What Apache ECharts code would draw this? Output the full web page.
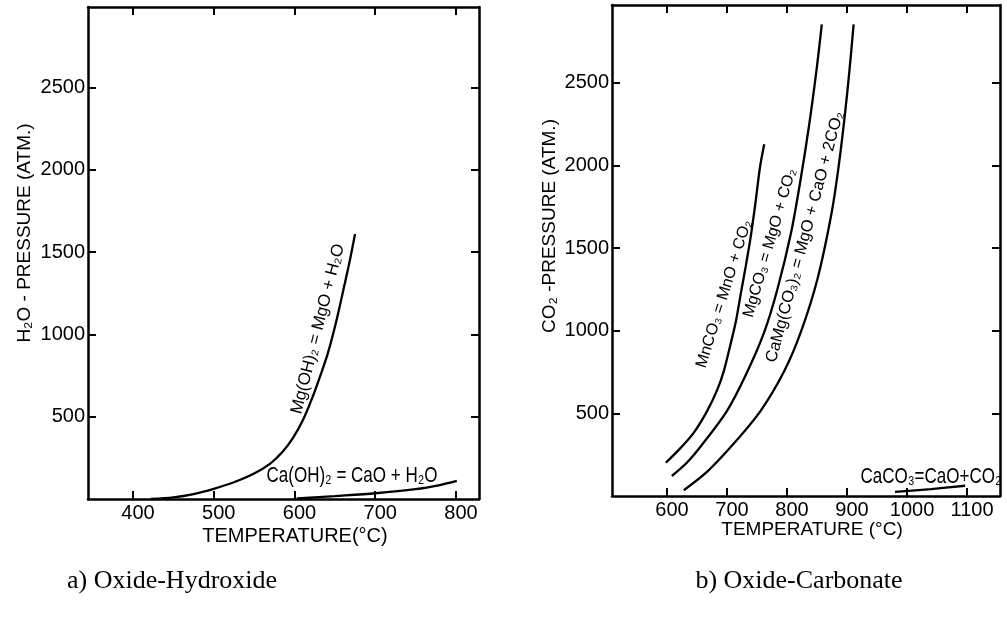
<!DOCTYPE html>
<html><head><meta charset="utf-8">
<script src="https://cdn.jsdelivr.net/npm/echarts@6/dist/echarts.min.js"></script>
<style>html,body{margin:0;padding:0;background:#fff}#c{width:1007px;height:625px}</style>
</head><body><div id="c"></div>
<script>
// ---- data (temperature °C, pressure atm) ----
const tempTicksA = [400, 500, 600, 700, 800];
const tempTicksB = [600, 700, 800, 900, 1000, 1100];
const pressureTicks = [500, 1000, 1500, 2000, 2500];

const mgOH2 = [[422,0],[450,10],[475,30],[500,62],[525,102],[550,155],[570,215],[585,285],[598,370],[610,475],[622,615],[632,750],[641,880],[652,1085],[662,1303],[669,1460],[675,1610]];
const caOH2 = [[603,3],[650,18],[700,35],[750,60],[780,85],[801,110]];

const mnCO3 = [[598,201],[622,288],[645,385],[667,515],[684,645],[695,760],[706,920],[715,1060],[723,1225],[731,1385],[740,1580],[748,1790],[755,1990],[762,2128]];
const mgCO3 = [[608,121],[633,201],[656,299],[700,515],[734,753],[762,991],[784,1251],[807,1597],[823,1922],[837,2247],[849,2571],[858,2853]];
const dolomite = [[628,35],[667,147],[712,320],[756,515],[795,753],[823,991],[851,1316],[874,1706],[885,1965],[896,2290],[904,2571],[911,2853]];
const caCO3 = [[980,25],[1040,42],[1097,62]];

// ---- styling ----
const FONT = "'Liberation Sans', Arial, Helvetica, sans-serif";
const SERIF = "'Liberation Serif', 'Times New Roman', serif";
const INK = '#000';
const plain = function (v) { return String(v); };

function xAx(grid, min, max, ticks, pos, showLabel) {
  return {
    type: 'value', gridIndex: grid, position: pos, min: min, max: max,
    axisLine: { show: true, onZero: false, lineStyle: { color: INK, width: 2.5 } },
    axisTick: { show: true, inside: true, length: 8, customValues: ticks, lineStyle: { color: INK, width: 2 } },
    axisLabel: { show: showLabel, customValues: ticks, formatter: plain, color: INK, fontSize: 20, fontFamily: FONT, margin: 4, padding: [0, 0, 0, 10] },
    splitLine: { show: false }
  };
}
function yAx(grid, max, pos, showLabel) {
  return {
    type: 'value', gridIndex: grid, position: pos, min: 0, max: max,
    axisLine: { show: true, onZero: false, lineStyle: { color: INK, width: 2.5 } },
    axisTick: { show: true, inside: true, length: 8, customValues: pressureTicks, lineStyle: { color: INK, width: 2 } },
    axisLabel: { show: showLabel, customValues: pressureTicks, formatter: plain, color: INK, fontSize: 20, fontFamily: FONT, margin: 3 },
    splitLine: { show: false }
  };
}
function curve(data, xi, yi) {
  return {
    type: 'line', data: data, xAxisIndex: xi, yAxisIndex: yi, smooth: 0.3,
    symbol: 'none', clip: false, silent: true,
    lineStyle: { color: INK, width: 2.3 }
  };
}
function txt(text, x, y, size, rotDeg, opts) {
  opts = opts || {};
  return {
    type: 'text', x: x, y: y, rotation: (rotDeg || 0) * Math.PI / 180,
    scaleY: opts.scaleY || 1, silent: true,
    style: {
      text: text, fill: INK, fontSize: size, fontFamily: opts.family || FONT,
      align: 'center', verticalAlign: 'middle', textAlign: 'center', textVerticalAlign: 'middle'
    }
  };
}

const chart = echarts.init(document.getElementById('c'), null, { renderer: 'canvas' });
chart.setOption({
  animation: false,
  backgroundColor: '#fff',
  grid: [
    { left: 88, top: 7, width: 391, height: 492 },
    { left: 612, top: 5, width: 388, height: 491 }
  ],
  xAxis: [
    xAx(0, 344.3, 828.5, tempTicksA, 'bottom', true),
    xAx(0, 344.3, 828.5, tempTicksA, 'top', false),
    xAx(1, 508.3, 1155, tempTicksB, 'bottom', true),
    xAx(1, 508.3, 1155, tempTicksB, 'top', false)
  ],
  yAxis: [
    yAx(0, 2990, 'left', true),
    yAx(0, 2990, 'right', false),
    yAx(1, 2970, 'left', true),
    yAx(1, 2970, 'right', false)
  ],
  series: [
    curve(mgOH2, 0, 0),
    curve(caOH2, 0, 0),
    curve(mnCO3, 2, 2),
    curve(mgCO3, 2, 2),
    curve(dolomite, 2, 2),
    curve(caCO3, 2, 2)
  ],
  graphic: [
    txt('H\u2082O - PRESSURE (ATM.)', 25, 233, 19, 90),
    txt('TEMPERATURE(\u00B0C)', 295, 536, 20, 0),
    txt('CO\u2082 -PRESSURE (ATM.)', 550, 226, 19, 90),
    txt('TEMPERATURE (\u00B0C)', 812, 530, 19, 0),
    txt('Mg(OH)\u2082 = MgO + H\u2082O', 318, 329, 17, 75.8),
    txt('Ca(OH)\u2082 = CaO + H\u2082O', 352, 476, 17, 0, { scaleY: 1.25 }),
    txt('MnCO\u2083 = MnO + CO\u2082', 724, 294, 16, 72.6),
    txt('MgCO\u2083 = MgO + CO\u2082', 770, 243, 16, 73.7),
    txt('CaMg(CO\u2083)\u2082 = MgO + CaO + 2CO\u2082', 805, 237, 16.5, 74.9),
    txt('CaCO\u2083=CaO+CO\u2082', 931, 477, 17, 0, { scaleY: 1.25 }),
    txt('a) Oxide-Hydroxide', 172, 581, 26, 0, { family: SERIF }),
    txt('b) Oxide-Carbonate', 799, 581, 26, 0, { family: SERIF })
  ]
});
</script>
</body></html>
